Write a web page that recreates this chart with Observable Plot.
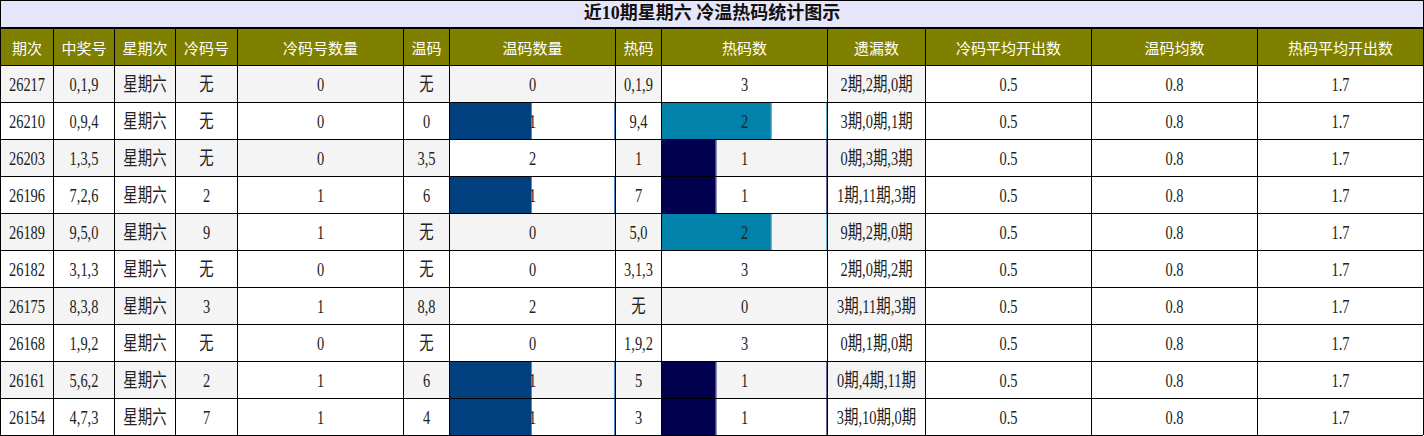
<!DOCTYPE html>
<html>
<head>
<meta charset="utf-8">
<script src="https://cdn.jsdelivr.net/npm/d3@7"></script>
<script src="https://cdn.jsdelivr.net/npm/@observablehq/plot@0.6"></script>
<style>
  html, body { margin: 0; padding: 0; background: #fff; }
  #title {
    box-sizing: border-box; width: 1424px; height: 28px;
    border: 1px solid #000; background: #E6E6FA;
    font: bold 18px "Liberation Serif", "Noto Sans CJK SC", sans-serif;
    text-align: center; line-height: 25px; color: #111;
  }
  #chart svg { display: block; }
  .bodytxt { font-family: "Liberation Serif", "Noto Sans CJK SC", serif !important; }
</style>
</head>
<body>
<div id="title">近10期星期六 冷温热码统计图示</div>
<div id="chart"></div>
<script>
// ---- data ----
const columns = ["期次","中奖号","星期次","冷码号","冷码号数量","温码","温码数量","热码","热码数","遗漏数","冷码平均开出数","温码均数","热码平均开出数"];
const periods = ["26217","26210","26203","26196","26189","26182","26175","26168","26161","26154"];
const winning = ["0,1,9","0,9,4","1,3,5","7,2,6","9,5,0","3,1,3","8,3,8","1,9,2","5,6,2","4,7,3"];
const weekday = ["星期六","星期六","星期六","星期六","星期六","星期六","星期六","星期六","星期六","星期六"];
const coldCodes = ["无","无","无","2","9","无","3","无","2","7"];
const coldCount = [0,0,0,1,1,0,1,0,1,1];
const warmCodes = ["无","0","3,5","6","无","无","8,8","无","6","4"];
const warmCount = [0,1,2,1,0,0,2,0,1,1];
const hotCodes = ["0,1,9","9,4","1","7","5,0","3,1,3","无","1,9,2","5","3"];
const hotCount = [3,2,1,1,2,3,0,3,1,1];
const missing = ["2期,2期,0期","3期,0期,1期","0期,3期,3期","1期,11期,3期","9期,2期,0期","2期,0期,2期","3期,11期,3期","0期,1期,0期","0期,4期,11期","3期,10期,0期"];
const coldAvg = [0.5,0.5,0.5,0.5,0.5,0.5,0.5,0.5,0.5,0.5];
const warmAvg = [0.8,0.8,0.8,0.8,0.8,0.8,0.8,0.8,0.8,0.8];
const hotAvg = [1.7,1.7,1.7,1.7,1.7,1.7,1.7,1.7,1.7,1.7];

// ---- layout / style ----
const colWidths = [53,61,61,62,166,46,166,46,166,98,166,166,166];
const colStart = colWidths.map((w, i) => d3.sum(colWidths.slice(0, i)));
const totalWidth = d3.sum(colWidths);
const plainCols = new Set([10, 11, 12]); // always white background
const barKeys = ["冷1","温1","温2","热1","热2","热3"];
const barColors = ["#ffffff","#00407f","#ffffff","#00004f","#0082aa","#ffffff"];
const barEdges = ["#ffffff","#4f8ac6","#ffffff","#6a6a9a","#66b6d3","#ffffff"];
const COMPRESS = 0.76;
const BODY_SIZE = 19;

const columnValues = [periods, winning, weekday, coldCodes, coldCount, warmCodes, warmCount, hotCodes, hotCount, missing, coldAvg, warmAvg, hotAvg];
const nRows = periods.length;

const cells = [];
for (let r = 0; r < nRows; r++) {
  columnValues.forEach((vals, c) => {
    cells.push({row: r, col: c, text: String(vals[r]), gray: r % 2 === 0 && !plainCols.has(c)});
  });
}

const barSpecs = [
  {col: 4, values: coldCount, prefix: "冷"},
  {col: 6, values: warmCount, prefix: "温"},
  {col: 8, values: hotCount, prefix: "热"}
];
const bars = [];
for (const s of barSpecs) {
  const max = d3.max(s.values);
  const scale = d3.scaleLinear().domain([0, max]).range([colStart[s.col], colStart[s.col] + colWidths[s.col]]);
  s.values.forEach((v, r) => {
    if (v > 0) bars.push({row: r, col: s.col, x1: scale(0), x2: scale(v), cellEnd: scale(max), key: s.prefix + v});
  });
}
const coloredBars = bars.filter(d => barColors[barKeys.indexOf(d.key)] !== "#ffffff");
const edgeOf = d => barEdges[barKeys.indexOf(d.key)];

const bodyFont = "Liberation Serif";
const headFont = "Noto Sans CJK SC";

const plot = Plot.plot({
  width: 1424,
  height: 408,
  margin: 0,
  x: {domain: [0, totalWidth], range: [0, totalWidth], axis: null},
  y: {domain: [0, nRows + 1], range: [0, 37 * (nRows + 1)], axis: null},
  color: {type: "ordinal", domain: barKeys, range: barColors},
  marks: [
    Plot.rect([0], {x1: 0, x2: totalWidth, y1: 0, y2: 1, fill: "#808000", inset: 0}),
    Plot.rect(cells.filter(d => d.gray), {
      x1: d => colStart[d.col], x2: d => colStart[d.col] + colWidths[d.col],
      y1: d => d.row + 1, y2: d => d.row + 2, fill: "#f4f4f4", inset: 0
    }),
    Plot.rect(bars, {x1: "x1", x2: "x2", y1: d => d.row + 1, y2: d => d.row + 2, fill: "key", inset: 0}),
    // light edge at the end of each coloured bar
    Plot.ruleX(coloredBars, {x: d => d.x2 - 1, y1: d => d.row + 1, y2: d => d.row + 2, stroke: edgeOf}),
    Plot.text(columns, {
      x: (d, i) => colStart[i] + colWidths[i] / 2, y: 0.5, text: d => d,
      fill: "#ffffff", fontSize: 15, fontFamily: headFont, dy: 2
    }),
    Plot.text(cells, {
      x: d => colStart[d.col] + colWidths[d.col] / 2, y: d => d.row + 1.5, text: "text",
      fill: "#222", fontSize: BODY_SIZE, fontFamily: bodyFont, dy: 1
    }),
    Plot.ruleX([0, ...colStart.slice(1), totalWidth], {y1: 0, y2: nRows + 1, stroke: "#000", strokeWidth: 1}),
    // light outline at the right end of data-bar cells
    Plot.ruleX(coloredBars, {x: d => d.cellEnd - 1, y1: d => d.row + 1, y2: d => d.row + 2, stroke: edgeOf}),
    Plot.ruleY(d3.range(0, nRows + 2), {x1: 0, x2: totalWidth, stroke: "#000", strokeWidth: 1})
  ]
});

// condense body text horizontally (as in the reference)
plot.querySelectorAll("text").forEach(t => {
  const g = t.closest("g");
  const fs = (g && g.getAttribute("font-size")) || t.getAttribute("font-size");
  if (String(fs) !== String(BODY_SIZE)) return;
  t.classList.add("bodytxt");
  const tr = t.getAttribute("transform");
  if (tr) {
    t.setAttribute("transform", tr + ` scale(${COMPRESS},1)`);
  } else {
    const x = +t.getAttribute("x") || 0, y = +t.getAttribute("y") || 0;
    t.setAttribute("transform", `translate(${x},${y}) scale(${COMPRESS},1) translate(${-x},${-y})`);
  }
});

document.getElementById("chart").appendChild(plot);
</script>
</body>
</html>
